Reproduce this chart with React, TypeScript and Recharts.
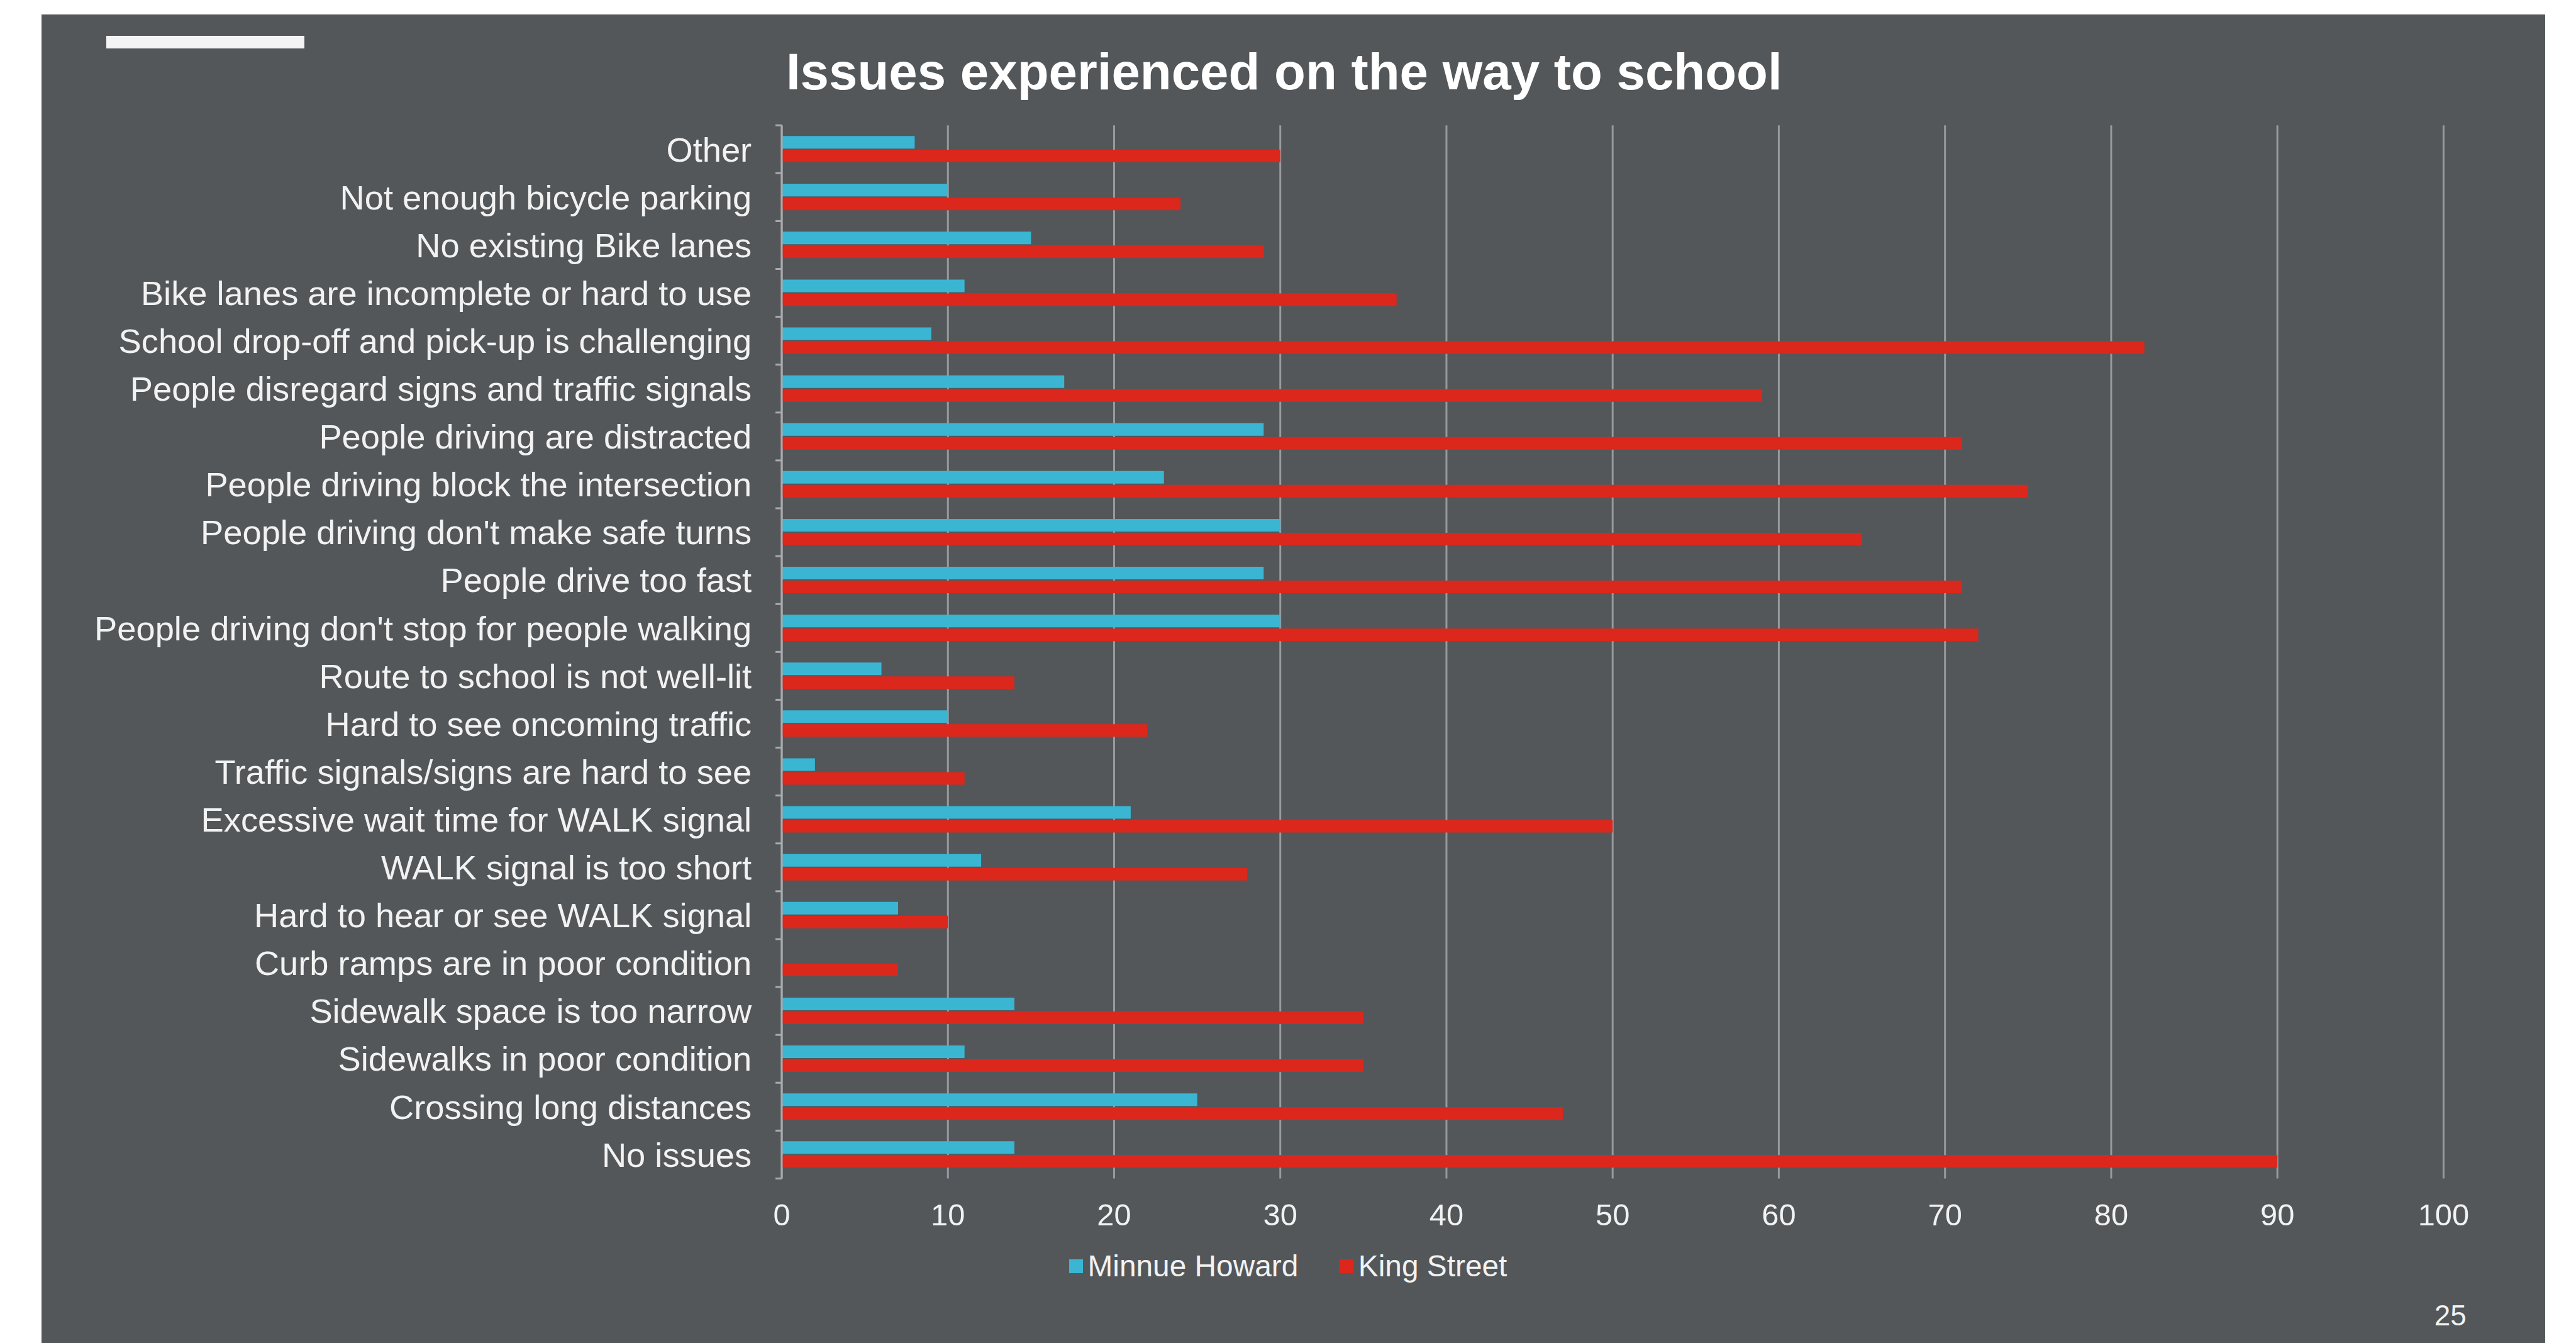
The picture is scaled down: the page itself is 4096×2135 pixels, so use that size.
import { BarChart, Bar, XAxis, YAxis, CartesianGrid, Legend } from "recharts"

// categories, top to bottom as in the chart
const categories = [
  "Other",
  "Not enough bicycle parking",
  "No existing Bike lanes",
  "Bike lanes are incomplete or hard to use",
  "School drop-off and pick-up is challenging",
  "People disregard signs and traffic signals",
  "People driving are distracted",
  "People driving block the intersection",
  "People driving don't make safe turns",
  "People drive too fast",
  "People driving don't stop for people walking",
  "Route to school is not well-lit",
  "Hard to see oncoming traffic",
  "Traffic signals/signs are hard to see",
  "Excessive wait time for WALK signal",
  "WALK signal is too short",
  "Hard to hear or see WALK signal",
  "Curb ramps are in poor condition",
  "Sidewalk space is too narrow",
  "Sidewalks in poor condition",
  "Crossing long distances",
  "No issues",
]

const seriesNames = ["Minnue Howard", "King Street"]
const minnueHoward = [8, 10, 15, 11, 9, 17, 29, 23, 30, 29, 30, 6, 10, 2, 21, 12, 7, 0, 14, 11, 25, 14]
const kingStreet = [30, 24, 29, 37, 82, 59, 71, 75, 65, 71, 72, 14, 22, 11, 50, 28, 10, 7, 35, 35, 47, 90]

const xTicks = [0, 10, 20, 30, 40, 50, 60, 70, 80, 90, 100]

const S = 0.996
const W = 4096
const H = 2135

const BG = "#53575a"
const CYAN = "#3ab6d3"
const RED = "#dc271c"
const GRID = "#979a9d"
const AXIS = "#a8abad"
const TEXT = "#f2f2f2"
const FONT = "'Liberation Sans', Arial, sans-serif"

const PLOT_LEFT = 1248 * S
const PLOT_RIGHT = 3901 * S
const PLOT_TOP = 200 * S
const PLOT_BOTTOM = 1881 * S
const X_AXIS_H = 60
const LABEL_GAP = 48 * S
const TICK_LEN = 10 * S

const data = categories.map((name, i) => ({
  name,
  minnue: minnueHoward[i],
  king: kingStreet[i],
}))

function CategoryTick(props: any) {
  const { x, y, payload, index, visibleTicksCount } = props
  const half = payload?.offset || (PLOT_BOTTOM - PLOT_TOP) / categories.length / 2
  const axisX = x + LABEL_GAP
  return (
    <g>
      <line x1={axisX - TICK_LEN} x2={axisX} y1={y - half} y2={y - half} stroke={AXIS} strokeWidth={3} />
      {index === visibleTicksCount - 1 && (
        <line x1={axisX - TICK_LEN} x2={axisX} y1={y + half} y2={y + half} stroke={AXIS} strokeWidth={3} />
      )}
      <text x={x} y={y} dy="0.355em" textAnchor="end" fill={TEXT} fontSize={54.5 * S} fontFamily={FONT}>
        {payload.value}
      </text>
    </g>
  )
}

function LegendContent({ payload }: any) {
  const items = [...(payload || [])].sort(
    (a: any, b: any) => seriesNames.indexOf(a.value) - seriesNames.indexOf(b.value)
  )
  return (
    <div style={{ display: "flex", justifyContent: "center", alignItems: "center", gap: 66 * S }}>
      {items.map((p: any) => (
        <div key={p.value} style={{ display: "flex", alignItems: "center" }}>
          <span style={{ width: 22 * S, height: 22 * S, background: p.color, marginRight: 8 * S, display: "inline-block" }} />
          <span style={{ color: TEXT, fontSize: 48 * S, fontFamily: FONT, lineHeight: 1 }}>{p.value}</span>
        </div>
      ))}
    </div>
  )
}

export default function App() {
  return (
    <div style={{ position: "absolute", left: 0, top: 0, width: W, height: H, background: "#ffffff", overflow: "hidden" }}>
      <div style={{ position: "absolute", left: 66 * S, top: 23 * S, width: (4063 - 66) * S, height: H, background: BG }} />
      <div style={{ position: "absolute", left: 170 * S, top: 57 * S, width: 316 * S, height: 20 * S, background: "#f4f4f4" }} />
      <div
        style={{
          position: "absolute",
          left: 2050 * S,
          top: 73 * S,
          transform: "translateX(-50%)",
          whiteSpace: "nowrap",
          color: "#ffffff",
          fontFamily: FONT,
          fontWeight: 700,
          fontSize: 82 * S,
          lineHeight: 1,
        }}
      >
        Issues experienced on the way to school
      </div>
      <div
        style={{
          position: "absolute",
          left: 3912 * S,
          top: 2077 * S,
          transform: "translateX(-50%)",
          color: TEXT,
          fontFamily: FONT,
          fontSize: 46 * S,
          lineHeight: 1,
        }}
      >
        25
      </div>
      <div style={{ position: "absolute", left: 0, top: 0 }}>
        <BarChart
          width={W}
          height={H}
          data={data}
          layout="vertical"
          margin={{ top: PLOT_TOP, right: W - PLOT_RIGHT, bottom: H - PLOT_BOTTOM - X_AXIS_H, left: 0 }}
          barCategoryGap={17 * S}
          barGap={2 * S}
        >
          <CartesianGrid horizontal={false} vertical stroke={GRID} strokeWidth={3} />
          <XAxis
            type="number"
            domain={[0, 100]}
            ticks={xTicks}
            height={X_AXIS_H}
            axisLine={false}
            tickLine={false}
            tickSize={0}
            tickMargin={40}
            tick={{ fill: TEXT, fontSize: 49 * S, fontFamily: FONT }}
            interval={0}
          />
          <YAxis
            type="category"
            dataKey="name"
            width={PLOT_LEFT}
            axisLine={{ stroke: AXIS, strokeWidth: 3 }}
            tickLine={false}
            tickSize={0}
            tickMargin={LABEL_GAP}
            interval={0}
            tick={<CategoryTick />}
          />
          <Legend
            layout="horizontal"
            verticalAlign="middle"
            align="center"
            content={<LegendContent />}
            wrapperStyle={{ left: 0, top: 1997 * S, width: W }}
          />
          <Bar dataKey="minnue" name={seriesNames[0]} fill={CYAN} isAnimationActive={false} />
          <Bar dataKey="king" name={seriesNames[1]} fill={RED} isAnimationActive={false} />
        </BarChart>
      </div>
    </div>
  )
}
